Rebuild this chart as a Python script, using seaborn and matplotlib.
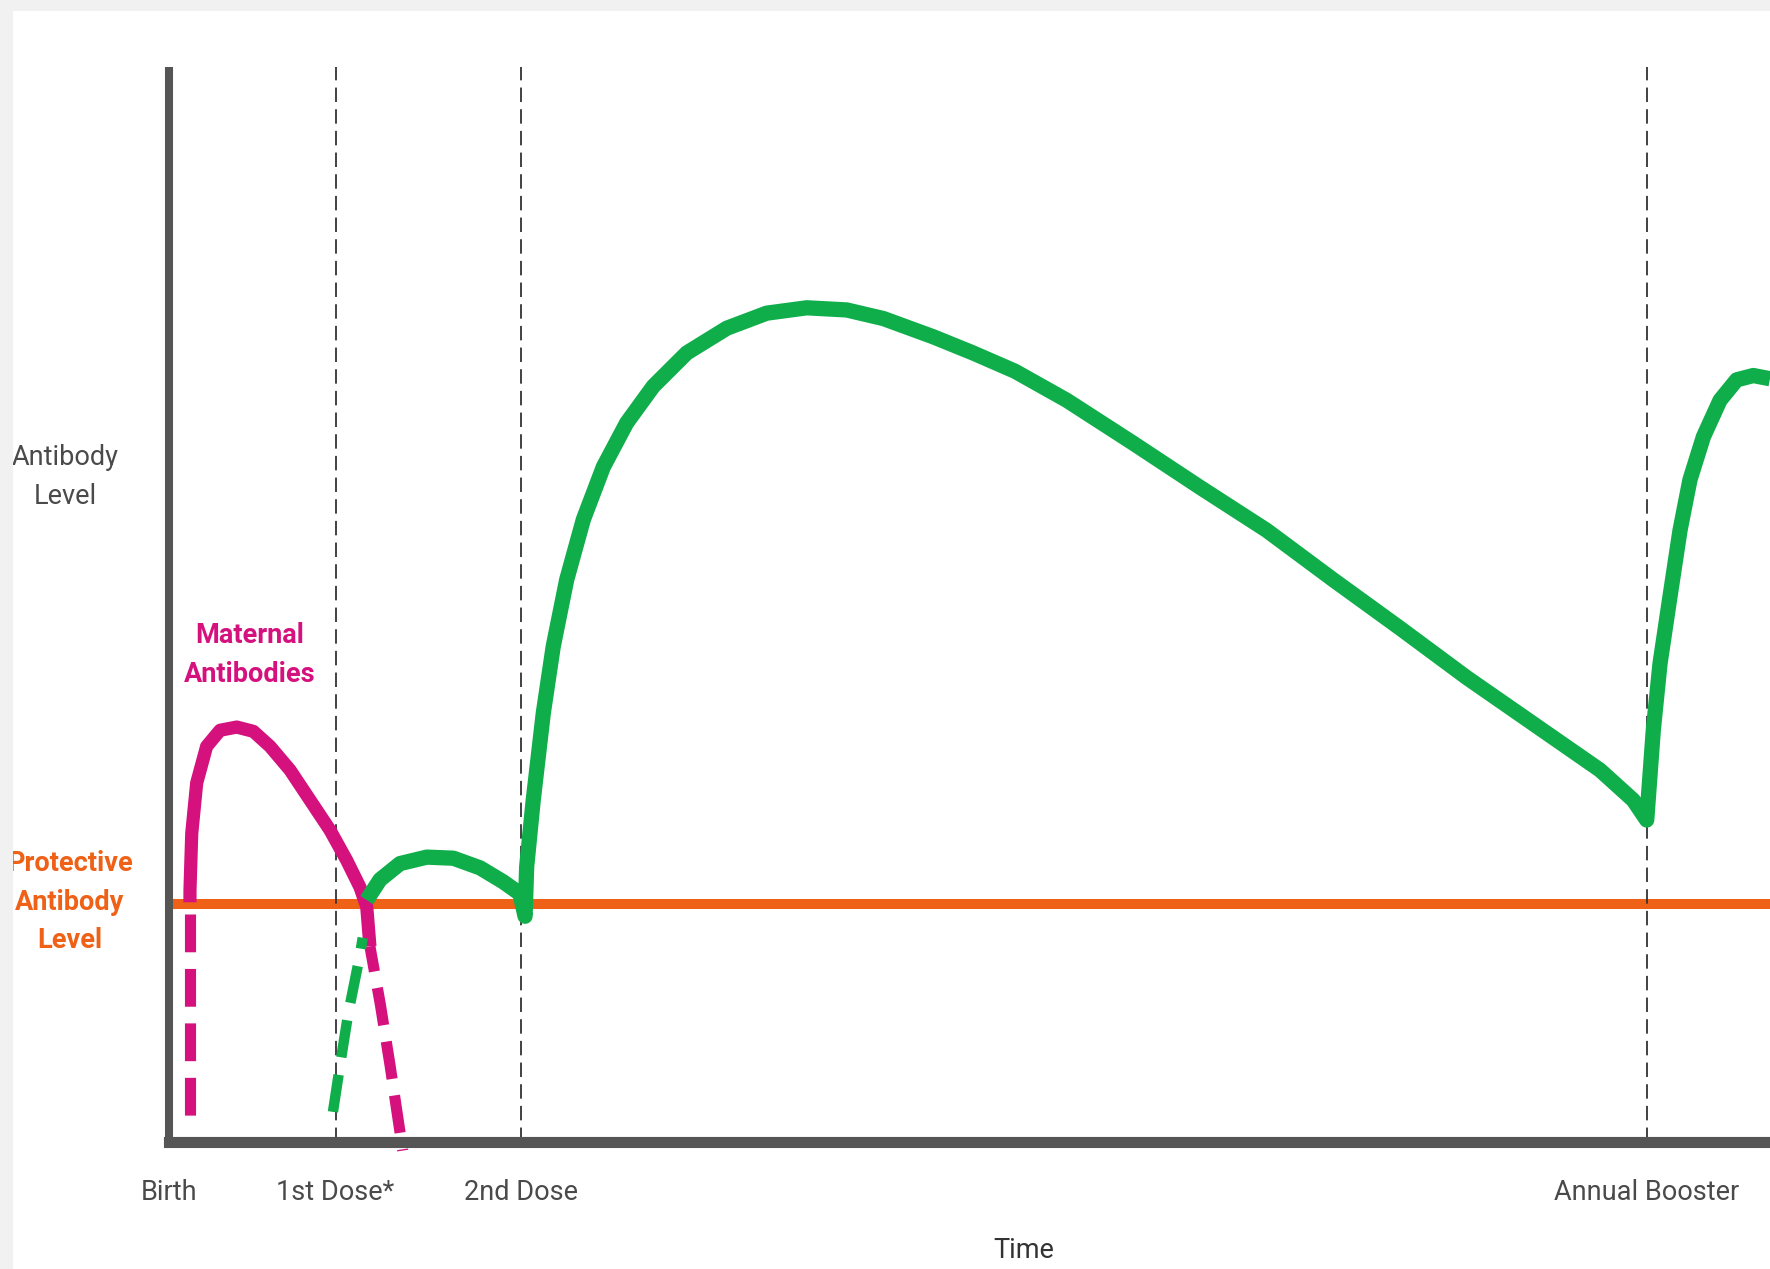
import matplotlib
matplotlib.use("Agg")
import matplotlib.pyplot as plt
import seaborn as sns
from matplotlib.patches import Rectangle

# Time in arbitrary units (0 = birth, 100 = right edge), antibody level in
# arbitrary units (0 = time axis, 100 = top of the level axis).
event_labels = ["Birth", "1st Dose*", "2nd Dose", "Annual Booster"]
event_times = [0.0, 10.4, 22.0, 92.3]
protective_level = 22.1

# maternal antibodies (solid part above the protective level)
maternal_t = [1.31, 1.31, 1.42, 1.73, 2.35, 3.19, 4.23, 5.27, 6.31, 7.56,
              8.81, 10.06, 11.1, 11.93, 12.35, 12.55]
maternal_level = [22.3, 23.4, 28.7, 33.4, 36.8, 38.3, 38.6, 38.2, 36.8, 34.6,
                  31.8, 29.0, 26.2, 23.7, 21.9, 18.2]
# maternal antibodies below the protective level (dashed)
maternal_birth_t = [1.31, 1.31]
maternal_birth_level = [21.2, 1.3]
maternal_decay_t = [12.55, 13.2, 13.8, 14.6]
maternal_decay_level = [18.2, 12.8, 7.2, -0.8]

# vaccine response hidden by maternal antibodies (dashed)
blocked_t = [10.24, 10.7, 11.2, 11.9, 12.1]
blocked_level = [2.8, 7.3, 12.0, 17.2, 19.0]

# vaccine response, 1st dose -> 2nd dose -> annual booster
vaccine_t = [12.35, 13.18, 14.43, 16.1, 17.76, 19.43, 20.88, 21.92, 22.24,
             22.34, 22.75, 23.38, 24.0, 24.84, 25.88, 27.13, 28.59, 30.25,
             32.34, 34.84, 37.33, 39.83, 42.33, 44.62, 47.74, 50.22, 52.84,
             56.07, 60.23, 64.4, 68.56, 72.72, 76.89, 81.06, 85.22, 89.38,
             91.46, 92.3,
             92.71, 93.13, 93.75, 94.38, 95.0, 95.84, 96.88, 97.92, 98.96, 100.0]
vaccine_level = [22.5, 24.4, 25.9, 26.5, 26.4, 25.5, 24.2, 23.1, 21.0,
                 25.6, 31.8, 39.9, 46.1, 52.3, 57.9, 62.8, 66.9, 70.3,
                 73.4, 75.7, 77.1, 77.6, 77.4, 76.6, 74.9, 73.4, 71.7,
                 69.0, 65.0, 60.9, 56.9, 52.3, 47.8, 43.2, 38.9, 34.6,
                 31.8, 29.95,
                 38.3, 44.5, 50.7, 56.9, 61.6, 65.6, 69.0, 70.9, 71.3, 71.0]

GREEN = "#0fae4b"
MAGENTA = "#d4117d"
ORANGE = "#ee6117"
AXIS = "#555555"
TEXT = "#4a4a4a"

sns.set_theme(style="white")
plt.rcParams["font.family"] = ["Roboto", "DejaVu Sans"]

W, H = 1770, 1269
fig = plt.figure(figsize=(W / 100, H / 100), dpi=100)
fig.patch.set_facecolor("white")
ax = fig.add_axes([169 / W, (H - 1142) / H, (W - 169) / W, (1142 - 67) / H])
ax.set_xlim(0, 100)
ax.set_ylim(0, 100)

# protective level and event markers
ax.axhline(protective_level, color=ORANGE, lw=7.2, zorder=2)
for t in event_times[1:]:
    ax.axvline(t, color="#333333", lw=1.3, linestyle=(0, (8, 4)), zorder=2.5)

curve_kws = dict(sort=False, estimator=None, ax=ax, legend=False, zorder=3)
sns.lineplot(x=maternal_t, y=maternal_level, color=MAGENTA, lw=9.5,
             solid_capstyle="butt", solid_joinstyle="round", **curve_kws)
sns.lineplot(x=maternal_birth_t, y=maternal_birth_level, color=MAGENTA, lw=8,
             linestyle=(0, (3.4, 1.5)), **curve_kws)
sns.lineplot(x=maternal_decay_t, y=maternal_decay_level, color=MAGENTA, lw=8,
             linestyle=(1.1, (3.4, 1.5)), clip_on=False, **curve_kws)
sns.lineplot(x=blocked_t, y=blocked_level, color=GREEN, lw=7.5,
             linestyle=(0, (3.6, 1.7)), **curve_kws)
sns.lineplot(x=vaccine_t, y=vaccine_level, color=GREEN, lw=11,
             solid_capstyle="butt", solid_joinstyle="round", **curve_kws)

# axes styling
sns.despine(ax=ax)
ax.spines["left"].set_linewidth(5.8)
ax.spines["bottom"].set_linewidth(8)
for s in ("left", "bottom"):
    ax.spines[s].set_color(AXIS)
    ax.spines[s].set_zorder(4)
ax.spines["left"].set_capstyle("butt")
ax.spines["bottom"].set_capstyle("projecting")
ax.set_yticks([])
ax.set_xticks(event_times, labels=event_labels)
ax.tick_params(axis="x", length=0, pad=27, labelsize=19.5, labelcolor=TEXT)
ax.grid(False)

ax.text(5.06, 45.3, "Maternal\nAntibodies", color=MAGENTA, fontsize=19.5,
        fontweight="bold", ha="center", va="center", linespacing=1.55)
fig.text(65 / W, 1 - 477 / H, "Antibody\nLevel", color=TEXT, fontsize=19.5,
         ha="center", va="center", linespacing=1.55)
fig.text(70 / W, 1 - 902 / H, "Protective\nAntibody\nLevel", color=ORANGE,
         fontsize=19.5, fontweight="bold", ha="center", va="center",
         linespacing=1.55, zorder=3)
fig.text(1024 / W, 1 - 1250 / H, "Time", color="#333333", fontsize=19.5,
         ha="center", va="center")

# light grey frame around the panel
fig.patches.append(Rectangle((0, 1 - 11 / H), 1, 11 / H, transform=fig.transFigure,
                             facecolor="#f1f1f1", edgecolor="none", zorder=10))
fig.patches.append(Rectangle((0, 0), 13 / W, 1, transform=fig.transFigure,
                             facecolor="#f1f1f1", edgecolor="none", zorder=10))

fig.savefig("out.png", dpi=100, facecolor=fig.get_facecolor())
